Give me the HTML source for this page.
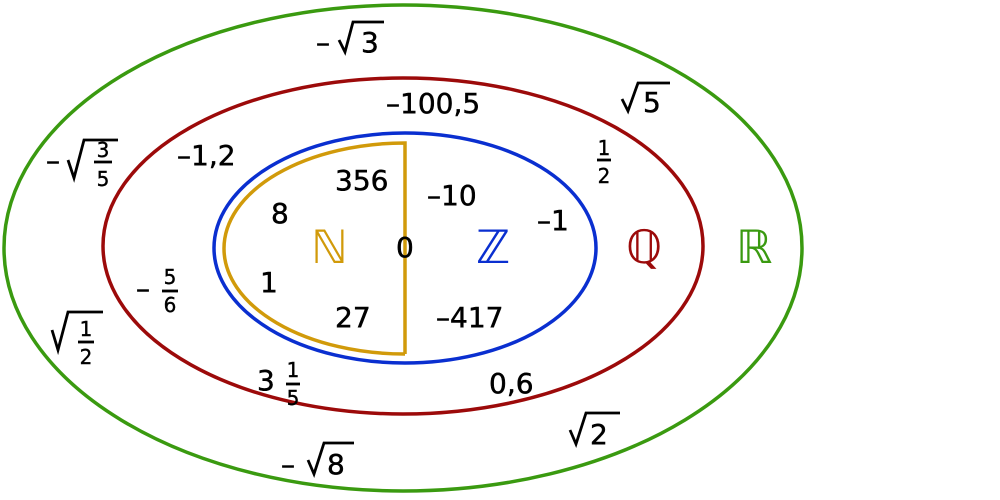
<!DOCTYPE html>
<html><head><meta charset="utf-8"><style>
html,body{margin:0;padding:0;background:#fff;}
svg{display:block;}
text{font-family:"DejaVu Sans","Liberation Sans",sans-serif;fill:#000;}
.n{font-size:28px;stroke:#000;stroke-width:0.5;}
.f{font-size:20px;text-anchor:middle;stroke:#000;stroke-width:0.4;}
.bb{font-size:46px;}
</style></head><body>
<svg width="1000" height="500" viewBox="0 0 1000 500">
<ellipse cx="403" cy="248" rx="399" ry="243" fill="none" stroke="#3a9a10" stroke-width="3.5"/>
<ellipse cx="403" cy="246" rx="300" ry="168" fill="none" stroke="#9c0a0a" stroke-width="3.5"/>
<ellipse cx="405" cy="248" rx="191" ry="115" fill="none" stroke="#0a2fd0" stroke-width="3.5"/>
<path d="M405,354 L405,143 A181,105.5 0 0 0 405,354" fill="none" stroke="#d19a0a" stroke-width="3.5"/>

<g fill="none" stroke="#000" stroke-width="2.8">
<polyline points="339,40 345,52 353,22 384,22"/>
<polyline points="622,99 628,111 638,83 670,83"/>
<polyline points="68,160 74,178 84,140 118,140"/>
<line x1="94" y1="162" x2="112" y2="162"/>
<polyline points="52,330 58,350 68,312 103,312"/>
<line x1="78" y1="342" x2="94" y2="342"/>
<line x1="597" y1="160" x2="611" y2="160"/>
<line x1="162" y1="291" x2="178" y2="291"/>
<line x1="286" y1="384" x2="300" y2="384"/>
<polyline points="570,430 576,444 586,413 620,413"/>
<polyline points="308,460 314,474 324,443 354,443"/>
</g>

<text class="n" x="316" y="52">–</text>
<text class="n" x="361" y="52">3</text>
<text class="n" x="643" y="112">5</text>
<text class="n" x="386" y="113">–100,5</text>
<text class="n" x="177" y="165">–1,2</text>
<text class="f" x="604" y="155">1</text>
<text class="f" x="604" y="183">2</text>
<text class="n" x="46" y="170">–</text>
<text class="f" x="103" y="157">3</text>
<text class="f" x="103" y="186">5</text>
<text class="n" x="335" y="190">356</text>
<text class="n" x="427" y="205">–10</text>
<text class="n" x="271" y="223">8</text>
<text class="n" x="537" y="230">–1</text>
<text class="bb" x="311" y="263" style="fill:#d19a0a">ℕ</text>
<text class="n" x="396" y="257">0</text>
<text class="bb" x="476" y="263" style="fill:#0a2fd0">ℤ</text>
<text class="bb" x="626" y="263" style="fill:#9c0a0a">ℚ</text>
<text class="bb" x="736" y="263" style="fill:#3a9a10">ℝ</text>
<text class="n" x="260" y="292">1</text>
<text class="n" x="136" y="298">–</text>
<text class="f" x="170" y="284">5</text>
<text class="f" x="170" y="312">6</text>
<text class="n" x="335" y="327">27</text>
<text class="n" x="436" y="327">–417</text>
<text class="f" x="86" y="336">1</text>
<text class="f" x="86" y="364">2</text>
<text class="n" x="257" y="390">3</text>
<text class="f" x="293" y="377">1</text>
<text class="f" x="293" y="405">5</text>
<text class="n" x="489" y="393">0,6</text>
<text class="n" x="590" y="444">2</text>
<text class="n" x="281" y="474">–</text>
<text class="n" x="327" y="474">8</text>
</svg>
</body></html>
